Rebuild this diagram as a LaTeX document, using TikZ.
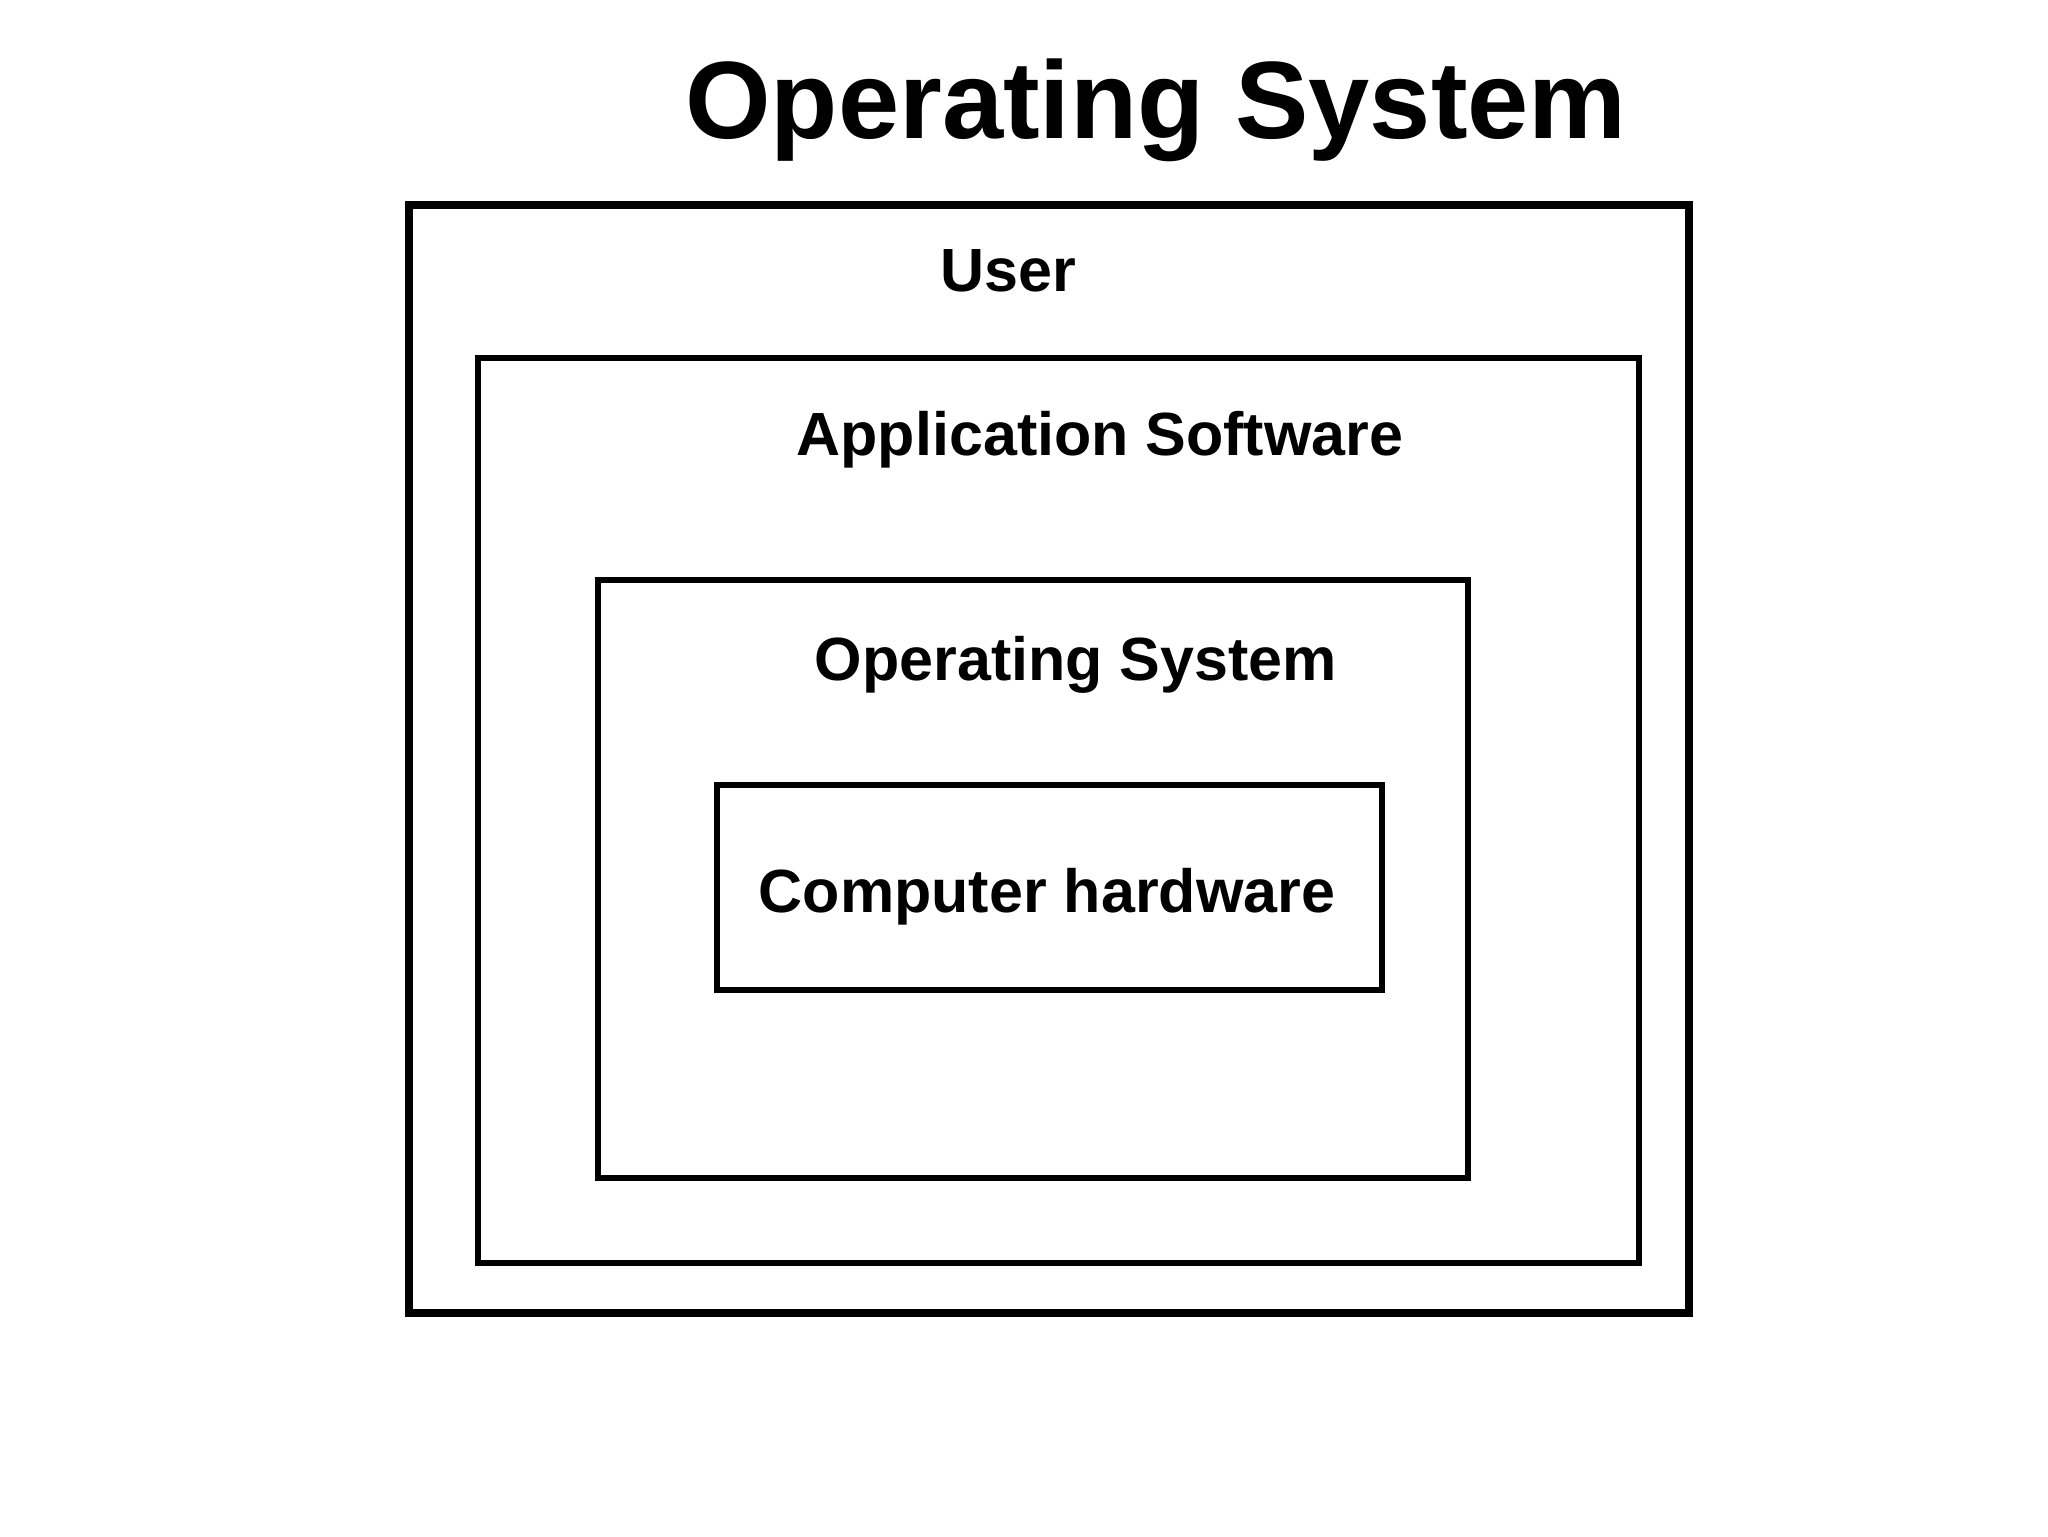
\documentclass[tikz,border=0pt]{standalone}
\usepackage{fontspec}
\setmainfont{Liberation Sans}
\begin{document}
\begin{tikzpicture}[x=0.5pt,y=-0.5pt,
  layerbox/.style={draw=black,line width=3pt,inner sep=0pt,fill=none},
  outerbox/.style={draw=black,line width=4pt,inner sep=0pt},
  lbl/.style={anchor=base,inner sep=0pt,font=\bfseries\fontsize{30.5pt}{36pt}\selectfont},
  ttl/.style={anchor=base,inner sep=0pt,font=\bfseries\fontsize{55pt}{66pt}\selectfont}]
\useasboundingbox[fill=white] (0,0) rectangle (2048,1536);
\node[ttl] (title) at (1156,138) {Operating System};
\node[outerbox,minimum width=640.25pt,minimum height=554.25pt] (user) at (1049,759) {};
\node[layerbox,minimum width=580.5pt,minimum height=452.5pt] (app) at (1058.5,810.5) {};
\node[layerbox,minimum width=435.25pt,minimum height=299pt] (os) at (1032.75,879) {};
\node[layerbox,minimum width=332.5pt,minimum height=102.35pt] (hw) at (1049.5,887.35) {};
\node[lbl] (userlbl) at (1008,291) {User};
\node[lbl] (applbl) at (1100,455) {Application Software};
\node[lbl] (oslbl) at (1076,680) {Operating System};
\node[lbl] (hwlbl) at (1047,912) {Computer hardware};
\end{tikzpicture}
\end{document}
